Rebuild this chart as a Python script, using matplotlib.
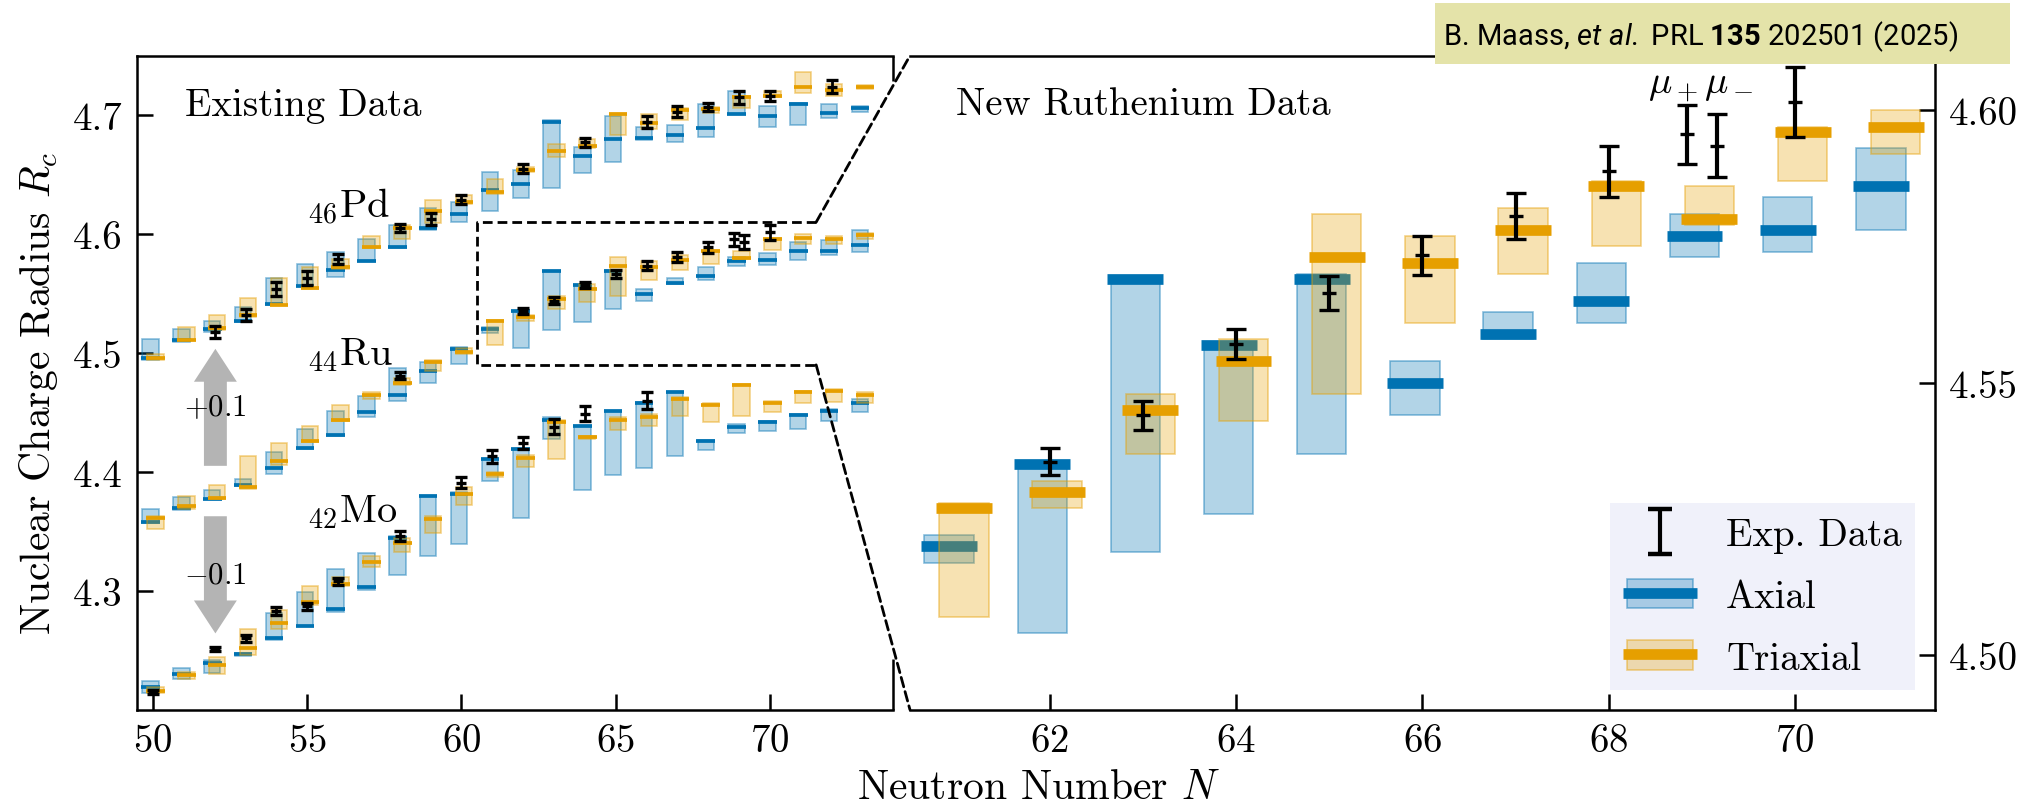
import numpy as np
import matplotlib
matplotlib.use("Agg")
import matplotlib.pyplot as plt
from matplotlib.patches import Rectangle, FancyArrowPatch, ConnectionPatch
from matplotlib.lines import Line2D
from matplotlib.colors import to_rgba
from matplotlib.ticker import FormatStrFormatter
from matplotlib.legend_handler import HandlerTuple, HandlerPatch, HandlerErrorbar
from matplotlib.container import ErrorbarContainer

plt.rcParams['font.family'] = 'serif'
plt.rcParams['font.serif'] = ['cmr10']
plt.rcParams['mathtext.fontset'] = 'cm'
plt.rcParams['axes.formatter.use_mathtext'] = True
plt.rcParams['mathtext.rm'] = 'Roboto'
plt.rcParams['mathtext.it'] = 'Roboto:italic'
plt.rcParams['mathtext.bf'] = 'Roboto:bold'

# ---------------- data ----------------
N = list(range(50, 74))

# Pd (Z=46), shown shifted by +0.1 fm
pd_axial = [4.396, 4.411, 4.420, 4.427, 4.441, 4.456, 4.470, 4.477, 4.489, 4.505, 4.517, 4.537,
            4.542, 4.594, 4.566, 4.580, 4.581, 4.583, 4.589, 4.601, 4.599, 4.609, 4.602, 4.606]
pd_axial_lo = [4.394, 4.409, 4.418, 4.426, 4.440, 4.456, 4.464, 4.477, 4.488, 4.503, 4.510, 4.519,
               4.530, 4.539, 4.551, 4.561, 4.579, 4.577, 4.582, 4.601, 4.590, 4.592, 4.598, 4.603]
pd_axial_hi = [4.412, 4.420, 4.427, 4.439, 4.463, 4.475, 4.485, 4.496, 4.508, 4.522, 4.527, 4.552,
               4.554, 4.596, 4.573, 4.599, 4.590, 4.592, 4.609, 4.620, 4.608, 4.610, 4.609, 4.608]
pd_triax = [4.396, 4.411, 4.421, 4.432, 4.440, 4.455, 4.472, 4.489, 4.505, 4.519, 4.527, 4.535,
            4.554, 4.570, 4.574, 4.601, 4.593, 4.604, 4.605, 4.615, 4.616, 4.624, 4.621, 4.624]
pd_triax_lo = [4.394, 4.411, 4.419, 4.430, 4.440, 4.454, 4.471, 4.488, 4.496, 4.509, 4.525, 4.534,
               4.552, 4.565, 4.572, 4.583, 4.588, 4.596, 4.602, 4.606, 4.615, 4.619, 4.616, 4.622]
pd_triax_hi = [4.399, 4.422, 4.432, 4.446, 4.463, 4.472, 4.479, 4.498, 4.508, 4.529, 4.533, 4.546,
               4.556, 4.576, 4.580, 4.601, 4.601, 4.606, 4.607, 4.616, 4.620, 4.636, 4.626, 4.625]
pd_exp_N = [52, 53, 54, 55, 56, 58, 59, 60, 62, 64, 66, 67, 68, 69, 70, 72]
pd_exp = [4.418, 4.432, 4.454, 4.463, 4.479, 4.505, 4.513, 4.529, 4.555, 4.577, 4.594, 4.603,
          4.607, 4.615, 4.616, 4.624]
pd_exp_err = [0.005, 0.005, 0.006, 0.006, 0.004, 0.0035, 0.005, 0.004, 0.0035, 0.004, 0.005,
              0.0045, 0.0035, 0.0055, 0.0045, 0.0055]

# Ru (Z=44), unshifted
ru_axial = [4.358, 4.370, 4.377, 4.389, 4.403, 4.420, 4.431, 4.450, 4.465, 4.485, 4.503, 4.520,
            4.535, 4.569, 4.557, 4.569, 4.550, 4.559, 4.565, 4.577, 4.578, 4.586, 4.586, 4.591]
ru_axial_lo = [4.357, 4.368, 4.377, 4.388, 4.398, 4.419, 4.430, 4.446, 4.460, 4.475, 4.491, 4.517,
               4.504, 4.519, 4.526, 4.537, 4.544, 4.558, 4.561, 4.573, 4.574, 4.578, 4.582, 4.585]
ru_axial_hi = [4.369, 4.379, 4.385, 4.394, 4.417, 4.436, 4.451, 4.464, 4.487, 4.492, 4.505, 4.522,
               4.535, 4.569, 4.557, 4.570, 4.554, 4.563, 4.572, 4.581, 4.584, 4.593, 4.595, 4.603]
ru_triax = [4.361, 4.371, 4.378, 4.387, 4.409, 4.426, 4.444, 4.465, 4.475, 4.492, 4.501, 4.527,
            4.530, 4.545, 4.554, 4.573, 4.572, 4.578, 4.586, 4.580, 4.596, 4.597, 4.596, 4.599]
ru_triax_lo = [4.352, 4.369, 4.377, 4.386, 4.406, 4.425, 4.443, 4.461, 4.473, 4.485, 4.499, 4.507,
               4.527, 4.537, 4.543, 4.548, 4.561, 4.570, 4.575, 4.579, 4.587, 4.592, 4.592, 4.596]
ru_triax_hi = [4.363, 4.380, 4.389, 4.413, 4.424, 4.439, 4.456, 4.467, 4.479, 4.494, 4.504, 4.528,
               4.532, 4.548, 4.558, 4.581, 4.577, 4.582, 4.587, 4.586, 4.597, 4.600, 4.598, 4.601]
ru_exp_N = [58, 62, 63, 64, 65, 66, 67, 68, 69, 69, 70]
ru_exp_tag = ['', '', '', '', '', '', '', '', '+', '-', '']
ru_exp = [4.4809, 4.5355, 4.5440, 4.5571, 4.5665, 4.5734, 4.5806, 4.5888, 4.5956, 4.5935, 4.6015]
ru_exp_err = [0.0028, 0.0025, 0.0027, 0.0028, 0.0031, 0.0036, 0.0042, 0.0047, 0.0054, 0.0058, 0.0064]

# Mo (Z=42), shown shifted by -0.1 fm
mo_axial = [4.319, 4.330, 4.339, 4.347, 4.360, 4.370, 4.385, 4.403, 4.444, 4.480, 4.481, 4.511,
            4.519, 4.544, 4.539, 4.551, 4.558, 4.567, 4.526, 4.538, 4.542, 4.548, 4.551, 4.558]
mo_axial_lo = [4.314, 4.326, 4.331, 4.345, 4.359, 4.370, 4.382, 4.401, 4.413, 4.429, 4.439, 4.492,
               4.461, 4.528, 4.485, 4.497, 4.503, 4.513, 4.518, 4.533, 4.534, 4.536, 4.543, 4.550]
mo_axial_hi = [4.324, 4.335, 4.342, 4.348, 4.381, 4.399, 4.418, 4.432, 4.446, 4.480, 4.483, 4.511,
               4.519, 4.546, 4.539, 4.551, 4.559, 4.567, 4.527, 4.540, 4.543, 4.549, 4.553, 4.561]
mo_triax = [4.316, 4.329, 4.338, 4.352, 4.373, 4.391, 4.406, 4.424, 4.440, 4.460, 4.481, 4.498,
            4.512, 4.542, 4.529, 4.544, 4.546, 4.561, 4.556, 4.573, 4.558, 4.567, 4.568, 4.565]
mo_triax_lo = [4.314, 4.326, 4.330, 4.346, 4.368, 4.388, 4.404, 4.420, 4.433, 4.449, 4.472, 4.496,
               4.504, 4.511, 4.528, 4.535, 4.539, 4.547, 4.542, 4.547, 4.550, 4.558, 4.559, 4.558]
mo_triax_hi = [4.319, 4.332, 4.344, 4.368, 4.384, 4.404, 4.412, 4.429, 4.444, 4.463, 4.487, 4.500,
               4.514, 4.544, 4.530, 4.546, 4.549, 4.563, 4.558, 4.574, 4.560, 4.568, 4.570, 4.567]
mo_exp_N = [50, 52, 53, 54, 55, 56, 58, 60, 61, 62, 63, 64, 66]
mo_exp = [4.315, 4.351, 4.360, 4.383, 4.387, 4.408, 4.446, 4.491, 4.513, 4.524, 4.538, 4.549, 4.560]
mo_exp_err = [0.002, 0.002, 0.003, 0.003, 0.003, 0.003, 0.004, 0.0045, 0.0055, 0.005, 0.0065,
              0.0065, 0.0075]

shifts = {'Pd': 0.1, 'Ru': 0.0, 'Mo': -0.1}

# ---------------- style ----------------
BLUE = '#0072B2'
ORANGE = '#E69F00'
OFF = 0.08      # horizontal offset axial / triaxial
BOXW = 0.53
LINEW = 0.60
DASH = (0, (3.5, 1.8))

fig = plt.figure(figsize=(20.38, 8.04), dpi=100)
ax1 = fig.add_axes([0.0671, 0.1160, 0.3712, 0.8135])
ax2 = fig.add_axes([0.4465, 0.1160, 0.5029, 0.8135])


def draw_model(ax, c, lo, hi, shift, color, sign, lw_line, zb):
    x = np.array(N) + sign * OFF
    c = np.array(c) + shift
    lo = np.array(lo) + shift
    hi = np.array(hi) + shift
    ax.bar(x, hi - lo, bottom=lo, width=BOXW, color=to_rgba(color, 0.3),
           edgecolor=to_rgba(color, 0.45), linewidth=1.2, zorder=zb)
    ax.hlines(c, x - LINEW / 2, x + LINEW / 2, colors=color, lw=lw_line, zorder=zb + 0.05)


def draw_exp(ax, n, v, e, shift, tags, big):
    x = np.array(n, dtype=float)
    if tags is not None:
        x = x + np.array([-0.16 if t == '+' else (0.16 if t == '-' else 0.0) for t in tags])
    v = np.array(v) + shift
    if big:
        ax.errorbar(x, v, yerr=e, fmt='_', color='k', ms=10, mew=2.4, elinewidth=3.0,
                    capsize=7.5, capthick=3.2, zorder=5)
    else:
        ax.errorbar(x, v, yerr=e, fmt='_', color='k', ms=7, mew=2.4, elinewidth=2.0,
                    capsize=4.6, capthick=2.4, zorder=5)


chains = [
    (pd_axial, pd_axial_lo, pd_axial_hi, pd_triax, pd_triax_lo, pd_triax_hi, shifts['Pd']),
    (ru_axial, ru_axial_lo, ru_axial_hi, ru_triax, ru_triax_lo, ru_triax_hi, shifts['Ru']),
    (mo_axial, mo_axial_lo, mo_axial_hi, mo_triax, mo_triax_lo, mo_triax_hi, shifts['Mo']),
]
for a, alo, ahi, t, tlo, thi, s in chains:
    draw_model(ax1, a, alo, ahi, s, BLUE, -1, 2.7, 2.0)
    draw_model(ax1, t, tlo, thi, s, ORANGE, +1, 2.7, 2.2)
draw_exp(ax1, pd_exp_N, pd_exp, pd_exp_err, shifts['Pd'], None, False)
draw_exp(ax1, ru_exp_N, ru_exp, ru_exp_err, shifts['Ru'], ru_exp_tag, False)
draw_exp(ax1, mo_exp_N, mo_exp, mo_exp_err, shifts['Mo'], None, False)

# right panel: Ru zoom
draw_model(ax2, ru_axial, ru_axial_lo, ru_axial_hi, 0.0, BLUE, -1, 7.7, 2.0)
draw_model(ax2, ru_triax, ru_triax_lo, ru_triax_hi, 0.0, ORANGE, +1, 7.7, 2.2)
draw_exp(ax2, ru_exp_N, ru_exp, ru_exp_err, 0.0, ru_exp_tag, True)

# ---------------- axes cosmetics ----------------
for ax in (ax1, ax2):
    for sp in ax.spines.values():
        sp.set_linewidth(1.8)
    ax.tick_params(direction='in', length=11.5, width=1.8, labelsize=28, pad=10)

ax1.set_xlim(49.47, 74.0)
ax1.set_ylim(4.2, 4.75)
ax1.set_xticks([50, 55, 60, 65, 70])
ax1.set_yticks([4.3, 4.4, 4.5, 4.6, 4.7])
ax1.yaxis.set_major_formatter(FormatStrFormatter('%.1f'))
ax1.tick_params(top=False, right=False)
ax1.spines['right'].set_visible(False)
ax1.plot([1, 1], [0.962, 1.0], transform=ax1.transAxes, color='k', lw=1.8,
         clip_on=False, solid_capstyle='butt')
ax1.plot([1, 1], [0.0, 0.077], transform=ax1.transAxes, color='k', lw=1.8,
         clip_on=False, solid_capstyle='butt')

ax2.set_xlim(60.5, 71.5)
ax2.set_ylim(4.49, 4.61)
ax2.set_xticks([62, 64, 66, 68, 70])
ax2.set_yticks([4.50, 4.55, 4.60])
ax2.yaxis.set_major_formatter(FormatStrFormatter('%.2f'))
ax2.spines['left'].set_visible(False)
ax2.tick_params(axis='y', left=False, right=True, labelleft=False, labelright=True)
ax2.tick_params(axis='x', top=False)

# inset box and connectors
ax1.plot([71.5, 60.5, 60.5, 71.5], [4.61, 4.61, 4.49, 4.49], color='k', lw=2.0,
         ls=DASH, zorder=6)
for yy in (4.61, 4.49):
    con = ConnectionPatch(xyA=(71.5, yy), coordsA='data', axesA=ax1,
                          xyB=(60.5, yy), coordsB='data', axesB=ax2,
                          color='k', lw=2.0, ls=DASH, zorder=6)
    fig.add_artist(con)

# texts
ax1.text(0.0638, 0.9098, 'Existing Data', transform=ax1.transAxes, fontsize=28,
         va='baseline', ha='left')
ax2.text(0.0449, 0.9109, 'New Ruthenium Data', transform=ax2.transAxes, fontsize=28,
         va='baseline', ha='left')
ax1.text(55.0, 4.615, r'$_{46}$Pd', fontsize=29, va='baseline', ha='left', zorder=7)
ax1.text(55.0, 4.491, r'$_{44}$Ru', fontsize=29, va='baseline', ha='left', zorder=7)
ax1.text(55.0, 4.3585, r'$_{42}$Mo', fontsize=29, va='baseline', ha='left', zorder=7)

# shift arrows
for y0, y1 in [(4.4051, 4.5035), (4.3627, 4.2642)]:
    arr = FancyArrowPatch((52.02, y0), (52.02, y1),
                          arrowstyle='simple,head_length=0.79,head_width=1.03,tail_width=0.55',
                          mutation_scale=30, color='#b4b4b4', lw=0, shrinkA=0, shrinkB=0,
                          zorder=1.5)
    ax1.add_patch(arr)
ax1.text(52.0, 4.4545, r'$+0.1$', fontsize=22, ha='center', va='center', zorder=7)
ax1.text(52.0, 4.3134, r'$-0.1$', fontsize=22, ha='center', va='center', zorder=7)

ax2.text(68.69, 4.6044, r'$\mu_+$', fontsize=28, ha='center', va='center')
ax2.text(69.29, 4.6048, r'$\mu_-$', fontsize=28, ha='center', va='center')

# axis labels
fig.text(0.5093, 0.0062, r'Neutron Number $N$', fontsize=30, ha='center', va='baseline')
fig.text(0.0191, 0.5102, r'Nuclear Charge Radius $R_c$', fontsize=30, rotation=90,
         ha='center', va='center')

# legend
exp_h = ax2.errorbar([0], [0], yerr=[0.01], fmt='none', ecolor='k', elinewidth=3.0,
                     capsize=8.3, capthick=3.2)
bp = Rectangle((0, 0), 1, 1, facecolor=to_rgba(BLUE, 0.3), edgecolor=to_rgba(BLUE, 0.45), lw=1.2)
op = Rectangle((0, 0), 1, 1, facecolor=to_rgba(ORANGE, 0.3), edgecolor=to_rgba(ORANGE, 0.45), lw=1.2)
bl = Line2D([], [], color=BLUE, lw=7.7, solid_capstyle='butt')
ol = Line2D([], [], color=ORANGE, lw=7.7, solid_capstyle='butt')


def box_func(legend, orig_handle, xdescent, ydescent, width, height, fontsize):
    return Rectangle((-xdescent + 0.05 * width, -ydescent), 0.9 * width, height)


leg = ax2.legend([exp_h, (bp, bl), (op, ol)], ['Exp. Data', 'Axial', 'Triaxial'],
                 loc='lower right', fontsize=28, handlelength=1.9, handleheight=0.8,
                 handletextpad=0.75, labelspacing=0.65, borderpad=0.35, borderaxespad=0.5,
                 frameon=True, fancybox=False, facecolor='#F0F1FA', edgecolor='none',
                 framealpha=1.0,
                 handler_map={ErrorbarContainer: HandlerErrorbar(yerr_size=0.58),
                              tuple: HandlerTuple(ndivide=1, pad=0),
                              Rectangle: HandlerPatch(patch_func=box_func)})
leg.set_zorder(10)

# citation banner
fig.add_artist(Rectangle((1435 / 2038, 1 - 65 / 804), (2010 - 1435) / 2038, 61 / 804,
                         transform=fig.transFigure, facecolor='#E4E3A9', edgecolor='none',
                         zorder=20))
fig.text(1443 / 2038, 1 - 45 / 804,
         r'B. Maass, $\mathit{et\ al.}$ PRL $\mathbf{135}$ 202501 (2025)',
         family='Roboto', fontsize=21, math_fontfamily='custom', ha='left', va='baseline',
         zorder=21)

fig.savefig('out.png', dpi=100)
